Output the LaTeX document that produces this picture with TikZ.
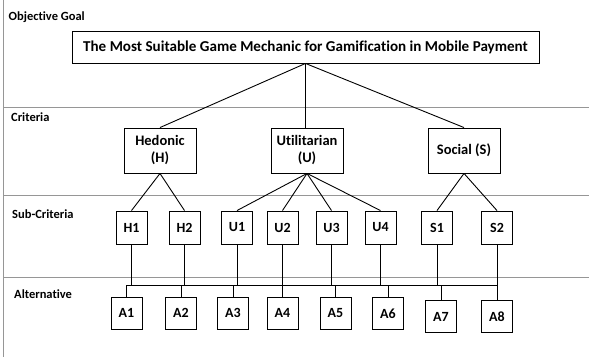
\documentclass[tikz,border=0pt]{standalone}
\usepackage{fontspec}
\setmainfont{Carlito}[Ligatures={NoCommon}]
\usetikzlibrary{positioning}
\definecolor{sepgray}{RGB}{150,150,150}
\tikzset{
  goalbox/.style={rectangle, draw, line width=0.9pt, minimum width=467pt,
    minimum height=32pt, inner sep=0pt, font=\bfseries\fontsize{15.1}{17}\selectfont},
  critbox/.style={rectangle, draw, line width=0.9pt, minimum width=72pt,
    minimum height=45pt, inner sep=0pt, align=center,
    font=\bfseries\fontsize{14.5}{17}\selectfont},
  subbox/.style={rectangle, draw, line width=0.9pt, minimum width=31pt,
    minimum height=33pt, inner sep=0pt, font=\bfseries\fontsize{14}{16}\selectfont},
  altbox/.style={subbox, minimum height=32pt},
  levellabel/.style={anchor=west, inner sep=0pt, font=\bfseries\fontsize{12.5}{14}\selectfont},
  sepline/.style={sepgray, line width=0.7pt},
  link/.style={line width=0.9pt, black}
}
\begin{document}
\begin{tikzpicture}[x=1pt, y=-1pt]
  \useasboundingbox (0,0) rectangle (589,358);

  % Level separators
  \draw[sepline] (3.5,0) -- (3.5,357);
  \foreach \ly in {107,195,277} {
    \draw[sepline] (3.5,\ly) -- (589,\ly);
  }

  % Level labels
  \node[levellabel] (lgoal) at (8.5,17) {Objective Goal};
  \node[levellabel] (lcrit) at (11,117) {Criteria};
  \node[levellabel] (lsub) at (12,214) {Sub-Criteria};
  \node[levellabel] (lalt) at (14,294) {Alternative};

  % Goal
  \node[goalbox] (goal) at (305.5,47) {The Most Suitable Game Mechanic for Gamification in Mobile Payment};

  % Criteria
  \node[critbox] (hed) at (160,150.5) {Hedonic\\(H)};
  \node[critbox] (uti) at (307,150.5) {Utilitarian\\(U)};
  \node[critbox] (soc) at (464,150.5) {Social (S)};

  % Sub-criteria
  \node[subbox] (h1) at (131.5,227.5) {H1};
  \node[subbox] (h2) at (184.5,227.5) {H2};
  \node[subbox] (u1) at (237,227.5) {U1};
  \node[subbox] (u2) at (282.5,227.5) {U2};
  \node[subbox] (u3) at (331.5,227.5) {U3};
  \node[subbox] (u4) at (380.5,227.5) {U4};
  \node[subbox] (s1) at (437,227.5) {S1};
  \node[subbox] (s2) at (497,227.5) {S2};

  % Alternatives
  \node[altbox] (a1) at (126.5,313) {A1};
  \node[altbox] (a2) at (181,313) {A2};
  \node[altbox] (a3) at (233,313) {A3};
  \node[altbox] (a4) at (282.5,313) {A4};
  \node[altbox] (a5) at (335.5,313.5) {A5};
  \node[altbox] (a6) at (388,313.5) {A6};
  \node[altbox] (a7) at (441,316.5) {A7};
  \node[altbox] (a8) at (497,316.5) {A8};

  % Goal to criteria
  \draw[link] (goal.south) -- (hed.north);
  \draw[link] (goal.south) -- (goal.south |- uti.north);
  \draw[link] (goal.south) -- (soc.north);

  % Criteria to sub-criteria
  \draw[link] (hed.south) -- (h1.north);
  \draw[link] (hed.south) -- (h2.north);
  \foreach \s in {u1,u2,u3,u4} {
    \draw[link] (uti.south) -- (\s.north);
  }
  \draw[link] (soc.south) -- (s1.north);
  \draw[link] (soc.south) -- (s2.north);

  % Bus between sub-criteria and alternatives
  \coordinate (busw) at (126.5,285);
  \coordinate (buse) at (497,285);
  \draw[link] (busw) -- (buse);
  \foreach \s in {h1,h2,u1,u2,u3,u4,s1,s2} {
    \draw[link] (\s.south) -- (\s.south |- busw);
  }
  \foreach \a in {a1,a2,a3,a4,a5,a6,a7,a8} {
    \draw[link] (\a.north |- busw) -- (\a.north);
  }
\end{tikzpicture}
\end{document}
